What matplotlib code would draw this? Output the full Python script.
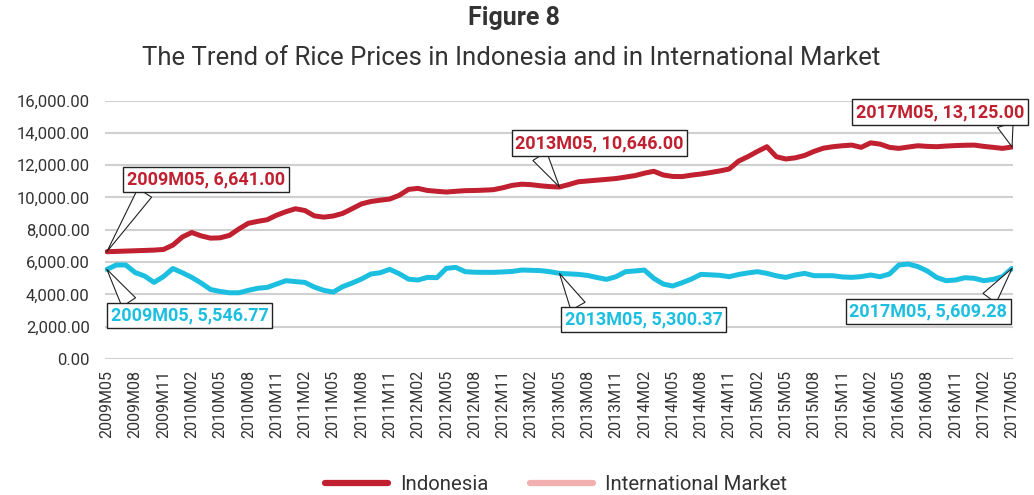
import matplotlib.pyplot as plt

plt.rcParams['font.family'] = ['Roboto', 'DejaVu Sans']

# monthly periods 2009M05 .. 2017M05
periods = []
for y in range(2009, 2018):
    for m in range(1, 13):
        if (y == 2009 and m < 5) or (y == 2017 and m > 5):
            continue
        periods.append(f"{y}M{m:02d}")

indonesia = [6641, 6660, 6680, 6700, 6720, 6740, 6780, 7050, 7550, 7830,
             7620, 7480, 7500, 7650, 8050, 8400, 8520, 8620, 8900, 9120,
             9300, 9190, 8860, 8780, 8850, 9010, 9300, 9600, 9750, 9830,
             9900, 10130, 10500, 10560, 10430, 10380, 10334, 10380, 10420, 10430,
             10450, 10480, 10600, 10750, 10820, 10790, 10720, 10670, 10646, 10800,
             10970, 11020, 11070, 11120, 11170, 11260, 11350, 11500, 11620, 11390,
             11300, 11290, 11380, 11450, 11540, 11640, 11760, 12250, 12530, 12850,
             13140, 12520, 12380, 12450, 12600, 12850, 13050, 13140, 13200, 13240,
             13100, 13380, 13300, 13100, 13036, 13120, 13200, 13160, 13140, 13180,
             13210, 13230, 13240, 13160, 13100, 13036, 13125]

international = [5546.77, 5820, 5820, 5350, 5136, 4740, 5100, 5600, 5340, 5053,
                 4700, 4300, 4180, 4100, 4100, 4250, 4380, 4430, 4640, 4847,
                 4790, 4740, 4450, 4250, 4140, 4475, 4700, 4950, 5260, 5342,
                 5549, 5280, 4940, 4889, 5053, 5032, 5610, 5672, 5404, 5370,
                 5363, 5363, 5390, 5420, 5507, 5490, 5470, 5400, 5300.37, 5270,
                 5238, 5170, 5040, 4930, 5094, 5404, 5450, 5507, 4993, 4641,
                 4517, 4720, 4950, 5238, 5210, 5180, 5094, 5230, 5330, 5404,
                 5300, 5150, 5050, 5200, 5300, 5156, 5156, 5156, 5080, 5053,
                 5100, 5198, 5094, 5260, 5817, 5879, 5720, 5450, 5050, 4847,
                 4889, 5032, 4993, 4847, 4930, 5100, 5609.28]

red = '#C0202F'
cyan = '#1DBFE0'

fig = plt.figure(figsize=(10.34, 4.95), dpi=100)
ax = fig.add_axes([105 / 1034, 1 - 359 / 495, (1013 - 105) / 1034, (359 - 100.5) / 495])

x = list(range(len(periods)))
ax.plot(x, indonesia, color=red, lw=3.6, solid_capstyle='round', label='Indonesia', zorder=3)
ax.plot(x, international, color=cyan, lw=3.6, solid_capstyle='round', label='International Market', zorder=3)

ax.set_ylim(0, 16000)
ax.set_xlim(-0.2, len(periods) - 0.9)
ax.set_yticks(range(0, 16001, 2000))
ax.set_yticklabels([f"{v:,.2f}" for v in range(0, 16001, 2000)], fontsize=12, color='#333333')
ax.set_xticks(x[::3])
ax.set_xticklabels(periods[::3], rotation=90, fontsize=11.5, color='#333333')
ax.tick_params(length=0, pad=8)
ax.tick_params(axis='y', pad=11)
ax.grid(True, axis='y', color='#D0D0D0', lw=1.5)
ax.set_axisbelow(True)
for s in ax.spines.values():
    s.set_visible(False)


def callout(i, series, color, dx, dy, relpos):
    v = series[i]
    ax.annotate(f"{periods[i]}, {v:,.2f}", xy=(i, v), xytext=(dx, dy),
                textcoords='offset pixels', ha='center', va='center',
                fontsize=13, fontweight='bold', color=color, zorder=5,
                bbox=dict(boxstyle='square,pad=0.2', fc='white', ec='#222222', lw=1),
                arrowprops=dict(arrowstyle='wedge,tail_width=0.9,shrink_factor=0.5',
                                fc='white', ec='#222222', lw=0.8,
                                relpos=relpos, shrinkA=0, shrinkB=0))


callout(0, indonesia, red, 99, 72, (0.13, 0))
callout(48, indonesia, red, 40, 44, (0.13, 0))
callout(96, indonesia, red, -72, 35, (0.88, 0))
callout(0, international, cyan, 83, -46, (0.13, 1))
callout(48, international, cyan, 84, -46, (0.1, 1))
callout(96, international, cyan, -84, -43, (0.87, 1))

fig.text(514 / 1034, 1 - 18 / 495, 'Figure 8', ha='center', va='center',
         fontsize=18, fontweight='bold', color='#333333')
fig.text(511 / 1034, 1 - 58 / 495,
         'The Trend of Rice Prices in Indonesia and in International Market',
         ha='center', va='center', fontsize=18.5, color='#333333')

leg = fig.legend(loc='center', bbox_to_anchor=(556 / 1034, 1 - 485 / 495), ncol=2,
                 frameon=False, fontsize=14.7, handlelength=3.1, handletextpad=0.6,
                 columnspacing=2.0, labelcolor='#333333')
leg.legend_handles[1].set_color('#F2AFAF')
for h in leg.legend_handles:
    h.set_linewidth(4.5)

fig.savefig('out.png', dpi=100)
